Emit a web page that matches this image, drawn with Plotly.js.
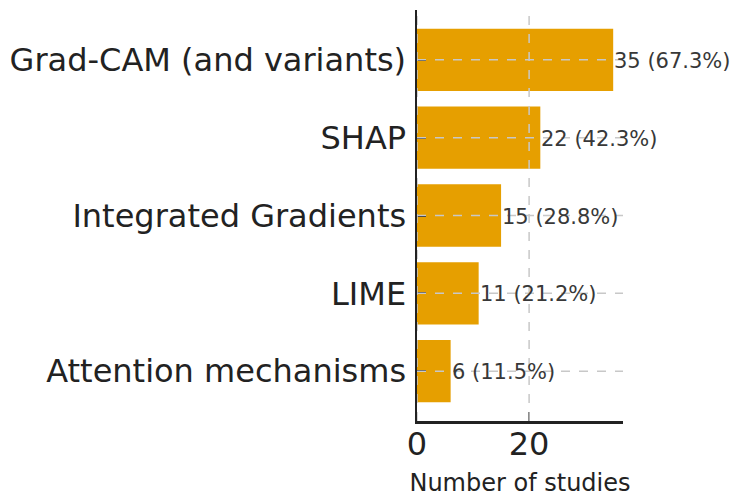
<!DOCTYPE html>
<html>
<head>
<meta charset="utf-8">
<script src="https://cdn.plot.ly/plotly-3.0.1.min.js"></script>
<style>
  html, body { margin: 0; padding: 0; background: #fff; }
  #chart { width: 735px; height: 497px; }
</style>
</head>
<body>
<div id="chart"></div>
<script>
// XAI methods used across the reviewed studies
const methods = [
  "Grad-CAM (and variants)",
  "SHAP",
  "Integrated Gradients",
  "LIME",
  "Attention mechanisms"
];
const studyCounts = [35, 22, 15, 11, 6];
const totalStudies = 52;
const xTicks = [0, 20];

const barColor = "#E69F00";
const gridColor = "#c8c8c8";
const fontFamily = "DejaVu Sans, sans-serif";

const labels = studyCounts.map(v => `${v} (${(100 * v / totalStudies).toFixed(1)}%)`);

const trace = {
  type: "bar",
  orientation: "h",
  y: methods,
  x: studyCounts,
  width: 0.8,
  marker: { color: barColor, line: { width: 0 } },
  hoverinfo: "x+y"
};

// Dashed grid drawn over the bars
const gridShapes = [];
xTicks.forEach(t => {
  gridShapes.push({
    type: "line", layer: "above",
    xref: "x", yref: "paper",
    x0: t, x1: t, y0: 0, y1: 1,
    line: { color: gridColor, width: 1.5, dash: "dash" }
  });
});
methods.forEach(m => {
  gridShapes.push({
    type: "line", layer: "above",
    xref: "paper", yref: "y",
    x0: 0, x1: 1, y0: m, y1: m,
    line: { color: gridColor, width: 1.5, dash: "dash" }
  });
});

const valueLabels = methods.map((m, i) => ({
  x: studyCounts[i],
  y: m,
  xref: "x", yref: "y",
  text: labels[i],
  showarrow: false,
  xanchor: "left",
  yanchor: "middle",
  xshift: -1,
  yshift: -1,
  font: { family: fontFamily, size: 21, color: "#383838" }
}));

const maxVal = Math.max(...studyCounts);

const layout = {
  width: 735,
  height: 497,
  margin: { l: 417, r: 112, t: 10, b: 76, pad: 0 },
  paper_bgcolor: "#ffffff",
  plot_bgcolor: "#ffffff",
  showlegend: false,
  font: { family: fontFamily, color: "#222222" },
  xaxis: {
    range: [0, maxVal * 1.05],
    tickvals: xTicks,
    ticktext: xTicks.map(String),
    ticks: "inside",
    ticklen: 9,
    tickwidth: 2,
    tickcolor: "#222222",
    showgrid: false,
    zeroline: false,
    showline: true,
    linecolor: "#222222",
    linewidth: 2.5,
    ticklabelstandoff: -7,
    tickfont: { family: fontFamily, size: 32, color: "#222222" },
    title: {
      text: "Number of studies",
      font: { family: fontFamily, size: 24, color: "#222222" },
      standoff: 13
    }
  },
  yaxis: {
    type: "category",
    autorange: false,
    range: [methods.length - 1 + 0.64, -0.64],
    ticks: "inside",
    ticklen: 9,
    tickwidth: 2,
    tickcolor: "#222222",
    showgrid: false,
    zeroline: false,
    showline: true,
    linecolor: "#222222",
    linewidth: 2.5,
    ticklabelstandoff: 2,
    tickfont: { family: fontFamily, size: 32, color: "#222222" }
  },
  shapes: gridShapes,
  annotations: valueLabels
};

Plotly.newPlot("chart", [trace], layout, { displayModeBar: false, staticPlot: true });
</script>
</body>
</html>
